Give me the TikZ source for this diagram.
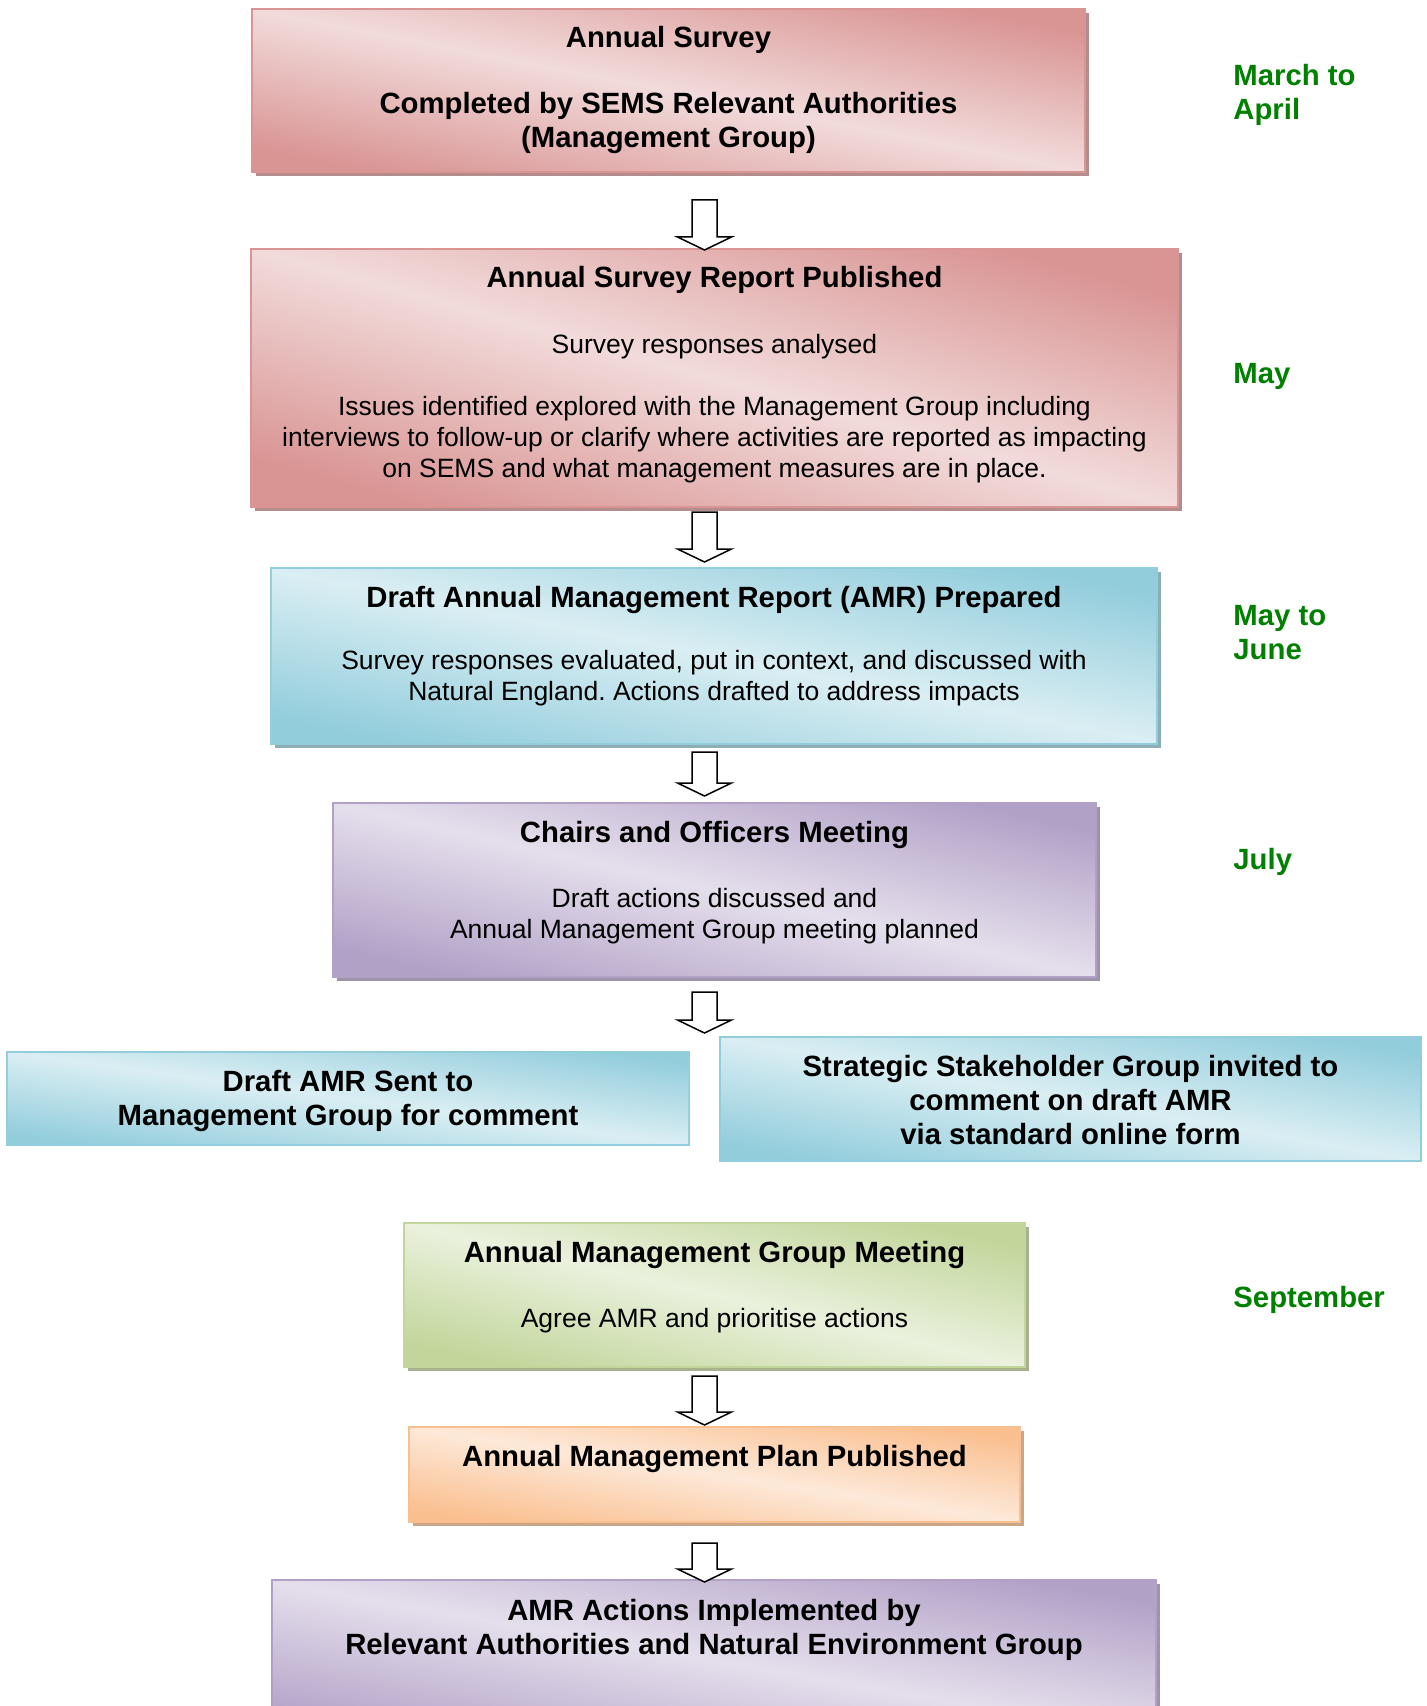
\documentclass[tikz,border=0pt]{standalone}
\usepackage{fontspec}
\setmainfont{Liberation Sans}
\usetikzlibrary{calc,shadows}
\definecolor{redD}{HTML}{D99594}
\definecolor{redL}{HTML}{F2DBDB}
\definecolor{bluD}{HTML}{92CDDC}
\definecolor{bluL}{HTML}{DAEEF3}
\definecolor{purD}{HTML}{B2A1C7}
\definecolor{purL}{HTML}{E5DFEC}
\definecolor{grnD}{HTML}{C2D69B}
\definecolor{grnL}{HTML}{EAF1DD}
\definecolor{orgD}{HTML}{FABF8F}
\definecolor{orgL}{HTML}{FDE9D9}
\definecolor{lblgreen}{HTML}{008000}
\newcommand\boldtxt{\fontsize{14.65}{17}\selectfont\bfseries}
\newcommand\regtxt{\fontsize{13.25}{15.4}\selectfont}
\frenchspacing
\tikzset{
  panel/.style={rectangle, inner sep=0pt, outer sep=0pt, anchor=north west, line width=1pt,
    draw=#1D, top color=#1D, bottom color=#1D, middle color=#1L},
  shad/.style={drop shadow={shadow xshift=2pt, shadow yshift=-2pt, opacity=1, fill=#1D!60!gray}},
  ttl/.style={anchor=base, align=center, font=\boldtxt},
  txt/.style={anchor=base, align=center, font=\regtxt},
  month/.style={anchor=base west, align=left, inner xsep=0pt, font=\boldtxt, text=lblgreen},
  blockarr/.style={draw=black, line width=0.75pt, fill=white, line join=miter},
}
\newcommand\blockarrow[2]{\draw[blockarr] let \p1=(#1), \p2=(#2) in
  (\x1-6.25pt,\y1) -- (\x1+6.25pt,\y1) -- (\x1+6.25pt,\y2+6.5pt) -- (\x1+13.5pt,\y2+6.5pt)
  -- (\x1,\y2) -- (\x1-13.5pt,\y2+6.5pt) -- (\x1-6.25pt,\y2+6.5pt) -- cycle;}
\begin{document}
\begin{tikzpicture}[x=0.5pt,y=-0.5pt]
\clip (0,0) rectangle (1427,1706);
\fill[white] (0,0) rectangle (1427,1706);

% boxes
\node[panel=red, shad=red, shading angle=-11, minimum width=416.5pt, minimum height=81.5pt] (b1) at (252,9) {};
\node[panel=red, shad=red, shading angle=-15.6, minimum width=463.5pt, minimum height=129pt] (b2) at (251,249) {};
\node[panel=blu, shad=blu, shading angle=-11, minimum width=443pt, minimum height=88pt] (b3) at (271,568) {};
\node[panel=pur, shad=pur, shading angle=-12.8, minimum width=381.5pt, minimum height=87pt] (b4) at (333,803) {};
\node[panel=blu, shading angle=-7.8, minimum width=341pt, minimum height=46.5pt] (bl) at (7,1052) {};
\node[panel=blu, shading angle=-10, minimum width=350.5pt, minimum height=62pt] (br) at (720,1037) {};
\node[panel=grn, shad=grn, shading angle=-13, minimum width=310.5pt, minimum height=72pt] (b5) at (404,1223) {};
\node[panel=org, shad=org, shading angle=-8.8, minimum width=305.5pt, minimum height=47.5pt] (b6) at (409,1427) {};
\node[panel=pur, shad=pur, shading angle=-10, minimum width=442pt, minimum height=80pt] (b7) at (272,1580) {};

% texts (base = baseline of the last line)
\node[ttl] (t1a) at (668.5,48) {Annual Survey};
\node[ttl] (t1b) at (668.5,148) {Completed by SEMS Relevant Authorities\\(Management Group)};
\node[ttl] (t2a) at (714.5,288) {Annual Survey Report Published};
\node[txt] (t2b) at (714.5,353.5) {Survey responses analysed};
\node[txt] (t2c) at (714.5,477) {Issues identified explored with the Management Group including\\interviews to follow-up or clarify where activities are reported as impacting\\on SEMS and what management measures are in place.};
\node[ttl] (t3a) at (714,607) {Draft Annual Management Report (AMR) Prepared};
\node[txt] (t3b) at (714,700) {Survey responses evaluated, put in context, and discussed with\\Natural England. Actions drafted to address impacts};
\node[ttl] (t4a) at (714.5,842) {Chairs and Officers Meeting};
\node[txt] (t4b) at (714.5,938) {Draft actions discussed and\\Annual Management Group meeting planned};
\node[ttl] (tl) at (348,1125) {Draft AMR Sent to\\Management Group for comment};
\node[ttl] (tr) at (1070.5,1144) {Strategic Stakeholder Group invited to\\comment on draft AMR\\via standard online form};
\node[ttl] (t5a) at (714.5,1262) {Annual Management Group Meeting};
\node[txt] (t5b) at (714.5,1327.5) {Agree AMR and prioritise actions};
\node[ttl] (t6) at (714.5,1466) {Annual Management Plan Published};
\node[ttl] (t7) at (714,1654) {AMR Actions Implemented by\\Relevant Authorities and Natural Environment Group};

% months
\node[month] (m1) at (1233,120) {March to\\April};
\node[month] (m2) at (1233,383) {May};
\node[month] (m3) at (1233,659) {May to\\June};
\node[month] (m4) at (1233,869) {July};
\node[month] (m5) at (1233,1307) {September};

% arrows
\coordinate (s1) at (704.5,200);  \coordinate (e1) at (704.5,250);
\coordinate (s2) at (704.5,512);  \coordinate (e2) at (704.5,562);
\coordinate (s3) at (704.5,752);  \coordinate (e3) at (704.5,796);
\coordinate (s4) at (704.5,992);  \coordinate (e4) at (704.5,1033);
\coordinate (s5) at (704.5,1376); \coordinate (e5) at (704.5,1425);
\coordinate (s6) at (704.5,1543); \coordinate (e6) at (704.5,1582);
\blockarrow{s1}{e1}
\blockarrow{s2}{e2}
\blockarrow{s3}{e3}
\blockarrow{s4}{e4}
\blockarrow{s5}{e5}
\blockarrow{s6}{e6}
\end{tikzpicture}
\end{document}
